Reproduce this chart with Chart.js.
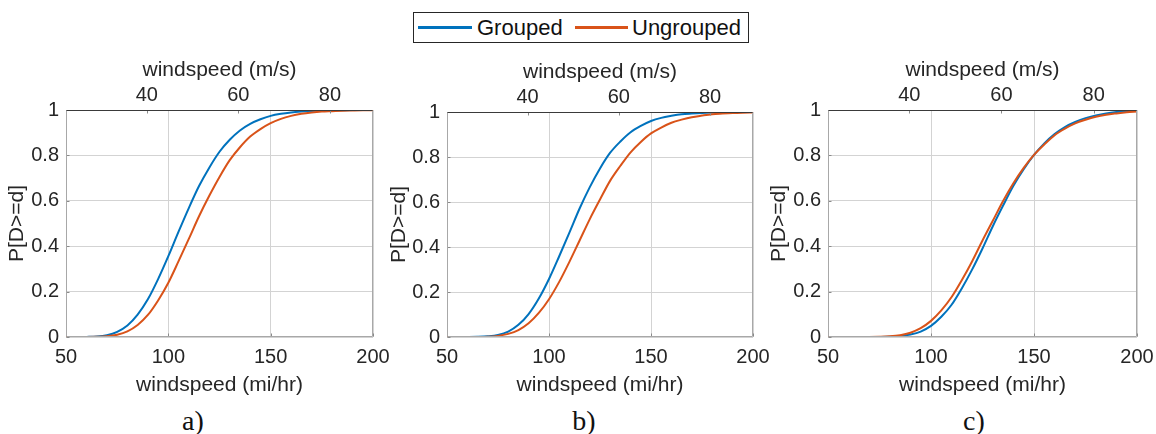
<!DOCTYPE html>
<html>
<head>
<meta charset="utf-8">
<script src="https://cdn.jsdelivr.net/npm/chart.js@4.4.1/dist/chart.umd.min.js"></script>
<style>
  html, body { margin:0; padding:0; background:#fff; }
  body { width:1156px; height:434px; position:relative; overflow:hidden; font-family:'Liberation Sans', Arial, sans-serif; }
  canvas { position:absolute; }
  .lab { position:absolute; font-family:'Liberation Serif','Times New Roman',serif; font-size:28px; line-height:28px; color:#111; transform:translateX(-50%); white-space:nowrap; }
  #legend { position:absolute; left:413px; top:12px; width:334px; height:29px; border:1px solid #262626; background:#fff; }
  .lg-line { position:absolute; top:13px; height:3px; }
  .lg-text { position:absolute; top:0; line-height:30px; font-size:22px; color:#111; white-space:nowrap; }
</style>
</head>
<body>
<div id="legend">
  <div class="lg-line" style="left:4px;width:54px;background:#0072BD"></div>
  <div class="lg-text" style="left:63px">Grouped</div>
  <div class="lg-line" style="left:161px;width:53px;background:#D95319"></div>
  <div class="lg-text" style="left:218px">Ungrouped</div>
</div>
<canvas id="ca" width="390" height="360" style="left:0px;top:40px"></canvas>
<canvas id="cb" width="390" height="360" style="left:380px;top:40px"></canvas>
<canvas id="cc" width="396" height="360" style="left:760px;top:40px"></canvas>
<div class="lab" style="left:193px;top:407px">a)</div>
<div class="lab" style="left:584px;top:407px">b)</div>
<div class="lab" style="left:974px;top:407px">c)</div>
<script>
// ---- data ----
const windMph = [50,55,60,65,70,75,80,85,90,95,100,105,110,115,120,125,130,135,140,145,150,155,160,165,170,175,180,185,190,195,200];

const groupedA   = [0,0,0.0005,0.002,0.008,0.023,0.051,0.099,0.166,0.255,0.356,0.464,0.568,0.665,0.746,0.816,0.869,0.910,0.939,0.959,0.974,0.983,0.989,0.993,0.996,0.9975,0.9985,0.999,0.9995,0.9997,0.9998];
const ungroupedA = [0,0,0.0002,0.001,0.003,0.010,0.025,0.053,0.097,0.161,0.239,0.334,0.432,0.532,0.622,0.705,0.779,0.836,0.883,0.916,0.942,0.961,0.974,0.983,0.989,0.993,0.995,0.997,0.998,0.9989,0.9993];

const groupedB   = [0,0,0.0001,0.0007,0.003,0.009,0.024,0.054,0.102,0.171,0.258,0.359,0.464,0.571,0.666,0.749,0.819,0.869,0.910,0.938,0.960,0.974,0.983,0.990,0.9934,0.996,0.9976,0.9986,0.9992,0.9995,0.9997];
const ungroupedB = [0,0,0.0001,0.0004,0.0015,0.005,0.014,0.031,0.061,0.107,0.168,0.245,0.334,0.429,0.524,0.611,0.695,0.761,0.821,0.867,0.905,0.931,0.952,0.966,0.977,0.984,0.990,0.993,0.9955,0.997,0.998];

const groupedC   = [0,0,0,0,0.0001,0.0003,0.0012,0.004,0.011,0.024,0.049,0.089,0.142,0.215,0.298,0.390,0.488,0.579,0.666,0.739,0.802,0.853,0.894,0.925,0.947,0.964,0.976,0.985,0.991,0.995,0.998];
const ungroupedC = [0,0,0,0,0.0002,0.001,0.003,0.008,0.019,0.039,0.071,0.117,0.176,0.251,0.334,0.425,0.512,0.599,0.677,0.745,0.802,0.848,0.889,0.918,0.941,0.957,0.970,0.979,0.985,0.990,0.993];

const mphTicks  = [50,100,150,200];
const msTicks   = [40,60,80];
const probTicks = [0,0.2,0.4,0.6,0.8,1];
const seriesNames = ['Grouped','Ungrouped'];
const MPH_TO_MS = 0.44704;

Chart.defaults.font.family = "'Liberation Sans', Arial, sans-serif";
Chart.defaults.color = '#262626';

const TEXT = '#262626';
const GRID = '#d3d3d3';
const fmt = v => String(Math.round(v * 10) / 10);

const boxPlugin = {
  id: 'axesBox',
  afterDatasetsDraw(chart) {
    const {ctx, chartArea: a, scales} = chart;
    const L = Math.round(a.left) + 0.5, R = Math.round(a.right) - 0.5;
    const T = Math.round(a.top) + 0.5, B = Math.round(a.bottom) - 0.5;
    ctx.save();
    ctx.lineWidth = 1;
    ctx.strokeStyle = '#8a8a8a';
    ctx.beginPath();
    scales.x.ticks.forEach(t => { const p = Math.round(scales.x.getPixelForValue(t.value)) + 0.5; ctx.moveTo(p, B); ctx.lineTo(p, B - 3); });
    scales.xTop.ticks.forEach(t => { const p = Math.round(scales.xTop.getPixelForValue(t.value)) + 0.5; ctx.moveTo(p, T); ctx.lineTo(p, T + 3); });
    scales.y.ticks.forEach(t => { const p = Math.round(scales.y.getPixelForValue(t.value)) + 0.5; ctx.moveTo(L, p); ctx.lineTo(L + 3, p); });
    ctx.stroke();
    ctx.strokeStyle = '#a8a8a8';
    ctx.beginPath();
    ctx.moveTo(L, T); ctx.lineTo(L, B); ctx.lineTo(R, B); ctx.lineTo(R, T);
    ctx.stroke();
    ctx.strokeStyle = '#3a3a3a';
    ctx.beginPath();
    ctx.moveTo(L, T); ctx.lineTo(R, T);
    ctx.stroke();
    ctx.restore();
  }
};

function makePanel(id, grouped, ungrouped, geo) {
  const toPts = arr => windMph.map((x, i) => ({x: x, y: arr[i]}));
  const noSidePad = s => { s.paddingLeft = 0; s.paddingRight = 0; };
  return new Chart(document.getElementById(id), {
    type: 'line',
    data: {
      datasets: [
        { label: seriesNames[0], data: toPts(grouped), borderColor: '#0072BD', backgroundColor: '#0072BD', borderWidth: 2, pointRadius: 0, cubicInterpolationMode: 'monotone', order: 1 },
        { label: seriesNames[1], data: toPts(ungrouped), borderColor: '#D95319', backgroundColor: '#D95319', borderWidth: 2, pointRadius: 0, cubicInterpolationMode: 'monotone', order: 0 }
      ]
    },
    options: {
      responsive: false,
      animation: false,
      devicePixelRatio: 1,
      layout: { padding: { left: 0, right: geo.right, top: 0, bottom: 0 } },
      plugins: { legend: { display: false }, tooltip: { enabled: false }, title: { display: false } },
      scales: {
        x: {
          type: 'linear', position: 'bottom', min: 50, max: 200,
          afterBuildTicks: s => { s.ticks = mphTicks.map(v => ({value: v})); },
          afterFit: s => { s.height = geo.bottom; noSidePad(s); },
          grid: { color: GRID, drawTicks: false, lineWidth: 1 },
          border: { display: false },
          ticks: { padding: 8, color: TEXT, font: { size: 20 }, maxRotation: 0, autoSkip: false },
          title: { display: true, text: 'windspeed (mi/hr)', color: TEXT, font: { size: 21 }, padding: { top: 0, bottom: 2 } }
        },
        xTop: {
          type: 'linear', position: 'top', min: 50 * MPH_TO_MS, max: 200 * MPH_TO_MS,
          afterBuildTicks: s => { s.ticks = msTicks.map(v => ({value: v})); },
          afterFit: s => { s.height = geo.top; noSidePad(s); },
          grid: { display: false, drawTicks: false },
          border: { display: false },
          ticks: { padding: 3, color: TEXT, font: { size: 20 }, maxRotation: 0, autoSkip: false },
          title: { display: true, text: 'windspeed (m/s)', color: TEXT, font: { size: 21 }, padding: { top: geo.topTitle, bottom: 0 } }
        },
        y: {
          type: 'linear', position: 'left', min: 0, max: 1,
          afterBuildTicks: s => { s.ticks = probTicks.map(v => ({value: v})); },
          afterFit: s => { s.width = geo.left; },
          grid: { color: GRID, drawTicks: false, lineWidth: 1 },
          border: { display: false },
          ticks: { padding: 7, color: TEXT, font: { size: 20 }, callback: fmt },
          title: { display: true, text: 'P[D>=d]', color: TEXT, font: { size: 21 }, padding: { top: geo.yTitle, bottom: 0 } }
        }
      }
    },
    plugins: [boxPlugin]
  });
}

makePanel('ca', groupedA, ungroupedA, { left: 66, right: 17, top: 70, bottom: 63, topTitle: 18, yTitle: 5 });
makePanel('cb', groupedB, ungroupedB, { left: 67, right: 17, top: 72, bottom: 63, topTitle: 20, yTitle: 7 });
makePanel('cc', groupedC, ungroupedC, { left: 68, right: 19, top: 70, bottom: 63, topTitle: 18, yTitle: 7 });
</script>
</body>
</html>
